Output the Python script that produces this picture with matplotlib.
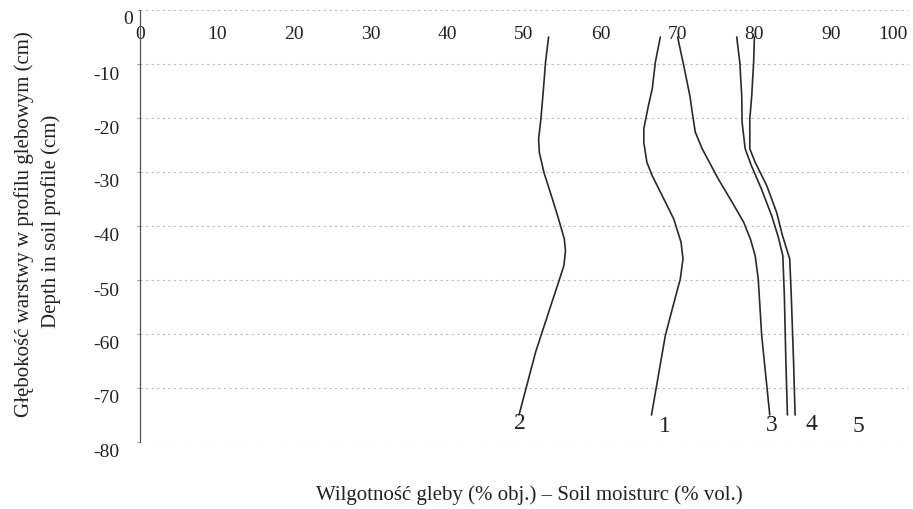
import matplotlib
matplotlib.use("Agg")
import matplotlib.pyplot as plt
import matplotlib.transforms as mtransforms

plt.rcParams['font.family'] = ['Liberation Serif', 'DejaVu Serif']

# curve "2"
depth_2 = [-5, -9.7, -15.2, -20.2, -23.9, -26.4, -30.1, -35, -38.7, -42.4, -44.6, -47.3, -50.4, -56, -63.4, -75]
moist_2 = [53.2, 52.8, 52.5, 52.2, 51.9, 52.0, 52.6, 53.7, 54.5, 55.25, 55.4, 55.2, 54.5, 53.2, 51.5, 49.35]
# curve "1"
depth_1 = [-5, -9.7, -14.6, -17.7, -22, -24.5, -28.2, -30.7, -34.4, -38.7, -43, -46.1, -49.8, -55.4, -60.3, -75]
moist_1 = [67.75, 67.1, 66.7, 66.2, 65.6, 65.6, 66.0, 66.7, 68.0, 69.5, 70.45, 70.7, 70.35, 69.3, 68.4, 66.6]
# curve "3"
depth_3 = [-5, -10.3, -15.9, -18.9, -22.6, -25.7, -31.3, -35.6, -39.3, -42.5, -45.5, -49.8, -60.3, -75]
moist_3 = [70.0, 70.8, 71.6, 71.9, 72.3, 73.2, 75.3, 77.1, 78.6, 79.5, 80.1, 80.5, 80.95, 82.0]
# curve "4"
depth_4 = [-5, -9.7, -15.9, -20.8, -25.7, -28.8, -33.1, -38.1, -42, -45.5, -52.9, -65.2, -75]
moist_4 = [77.7, 78.1, 78.35, 78.4, 78.8, 79.6, 80.9, 82.25, 83.1, 83.7, 83.9, 84.1, 84.3]
# curve "5"
depth_5 = [-5, -9.7, -15.9, -20.2, -25.7, -28.2, -32.5, -37.5, -41.5, -46.1, -52.9, -65.2, -75]
moist_5 = [80.0, 79.9, 79.65, 79.4, 79.4, 80.1, 81.6, 82.9, 83.6, 84.6, 84.8, 85.1, 85.3]

curve_names = ['2', '1', '3', '4', '5']
label_x = [49.4, 68.4, 82.2, 87.4, 93.5]
label_y = [-76.3, -77.0, -76.7, -76.5, -76.9]

x_ticks = [0, 10, 20, 30, 40, 50, 60, 70, 80, 90, 100]
y_ticks = [0, -10, -20, -30, -40, -50, -60, -70, -80]

W, H = 913, 510
fig = plt.figure(figsize=(W / 100, H / 100), dpi=100)
left, right, top, bottom = 140, 908, 11, 443
ax = fig.add_axes([left / W, 1 - bottom / H, (right - left) / W, (bottom - top) / H])

line_color = '#2a2a2a'
for d, m in [(depth_1, moist_1), (depth_2, moist_2), (depth_3, moist_3),
             (depth_4, moist_4), (depth_5, moist_5)]:
    ax.plot(m, d, color=line_color, lw=1.2, solid_joinstyle='round', solid_capstyle='round')

for name, lx, ly in zip(curve_names, label_x, label_y):
    ax.text(lx, ly, name, ha='center', va='center', fontsize=17, color='#222222')

ax.set_xlim(0, 100)
ax.set_ylim(-80, 0)

for s in ['top', 'right', 'bottom']:
    ax.spines[s].set_visible(False)
ax.spines['left'].set_color('#555555')
ax.spines['left'].set_linewidth(0.9)

ax.set_yticks(y_ticks)
ax.set_yticklabels([str(v) for v in y_ticks])
ax.yaxis.grid(True, color='#bbbbbb', linestyle=(0, (2, 3)), linewidth=0.8)
ax.set_axisbelow(True)
ax.tick_params(axis='y', length=2, width=0.6, color='#888888', pad=13, labelsize=14, labelcolor='#222222')

ax.set_xticks(x_ticks)
ax.set_xticklabels([str(v) for v in x_ticks])
ax.tick_params(axis='x', top=True, labeltop=True, bottom=False, labelbottom=False,
               length=0, pad=-23, labelsize=14, labelcolor='#222222')
for lab in ax.get_xticklabels():
    if lab.get_text() == '100':
        lab.set_horizontalalignment('right')

down = mtransforms.ScaledTranslation(0, -8 / 100, fig.dpi_scale_trans)
for lab in ax.get_yticklabels():
    if lab.get_text() == '0':
        lab.set_transform(lab.get_transform() + mtransforms.ScaledTranslation(14 / 100, -7 / 100, fig.dpi_scale_trans))
    else:
        lab.set_transform(lab.get_transform() + down)

fig.text(529 / W, 1 - 495 / H, 'Wilgotność gleby (% obj.) – Soil moisturc (% vol.)',
         ha='center', va='center', fontsize=15, color='#222222')
fig.text(24 / W, 1 - 224 / H, 'Głębokość warstwy w profilu glebowym (cm)',
         ha='center', va='center', rotation=90, fontsize=15, color='#222222')
fig.text(51 / W, 1 - 221 / H, 'Depth in soil profile (cm)',
         ha='center', va='center', rotation=90, fontsize=15, color='#222222')

fig.savefig('out.png', dpi=100, facecolor='white')
